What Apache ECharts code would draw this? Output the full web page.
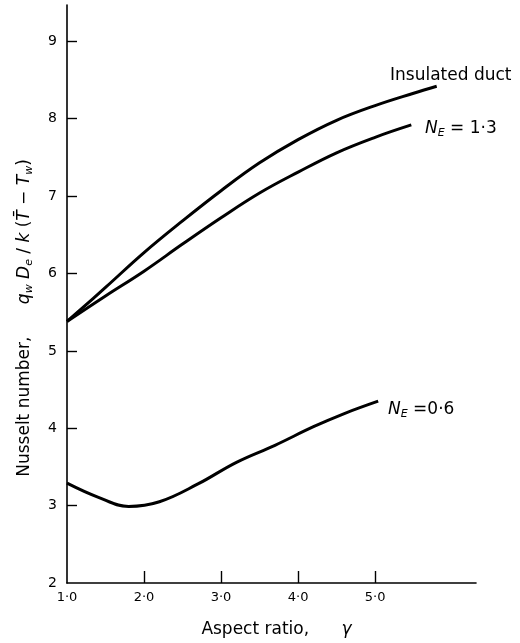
<!DOCTYPE html>
<html>
<head>
<meta charset="utf-8">
<script src="https://cdn.jsdelivr.net/npm/echarts@6/dist/echarts.min.js"></script>
<style>
  html, body { margin: 0; padding: 0; background: #fff; }
  #chart { width: 520px; height: 643px; }
</style>
</head>
<body>
<div id="chart"></div>
<script>
// values
var xTicks = [2, 3, 4, 5];
var xLabels = [1, 2, 3, 4, 5];
var yTicks = [3, 4, 5, 6, 7, 8, 9];
var yLabels = [2, 3, 4, 5, 6, 7, 8, 9];

var gammaInsulated = [1.0, 1.5, 2.0, 2.5, 3.0, 3.5, 4.0, 4.5, 5.0, 5.5, 5.8];
var nuInsulated = [5.38, 5.82, 6.27, 6.68, 7.07, 7.43, 7.73, 7.98, 8.17, 8.33, 8.42];

var gammaNe13 = [1.0, 1.5, 2.0, 2.5, 3.0, 3.5, 4.0, 4.5, 5.0, 5.47];
var nuNe13 = [5.38, 5.71, 6.03, 6.38, 6.72, 7.04, 7.31, 7.56, 7.76, 7.92];

var gammaNe06 = [1.0, 1.4, 1.8, 2.2, 2.7, 3.2, 3.7, 4.2, 4.6, 5.04];
var nuNe06 = [3.29, 3.11, 2.99, 3.05, 3.28, 3.56, 3.78, 4.02, 4.19, 4.35];

function pairs(xs, ys) {
    return xs.map(function (x, i) { return [x, ys[i]]; });
}

function fmtDot(v) {
    return v.toFixed(1).replace('.', '\u00b7');
}

var FONT = 'DejaVu Sans';

function curve(name, xs, ys) {
    return {
        name: name,
        type: 'line',
        data: pairs(xs, ys),
        smooth: 0.4,
        showSymbol: false,
        lineStyle: { color: '#000', width: 3 },
        silent: true
    };
}

var richLabel = {
    i: { fontFamily: FONT, fontSize: 17, fontStyle: 'italic', fill: '#000' },
    t: { fontFamily: FONT, fontSize: 17, fill: '#000' },
    s: { fontFamily: FONT, fontSize: 11, fontStyle: 'italic', fill: '#000', padding: [9, 0, 0, 0] }
};

var chartDoc = document.getElementById('chart');
var chart = echarts.init(chartDoc);

var option = {
    animation: false,
    backgroundColor: '#fff',
    grid: { left: 67, right: 44, top: 5, bottom: 53 },
    xAxis: {
        type: 'value',
        min: 1,
        max: 6.31,
        interval: 1,
        splitLine: { show: false },
        axisLine: { lineStyle: { color: '#000', width: 1.6 } },
        axisTick: { inside: true, length: 12, customValues: xTicks, lineStyle: { color: '#000', width: 1.4 } },
        axisLabel: {
            customValues: xLabels,
            formatter: fmtDot,
            color: '#000', fontFamily: FONT, fontSize: 13, margin: 8
        },
        name: 'Aspect ratio,      {g|\u03b3}',
        nameLocation: 'middle',
        nameGap: 38,
        nameTextStyle: {
            color: '#000', fontFamily: FONT, fontSize: 17,
            padding: [0, 0, 0, 10],
            rich: { g: { fontFamily: FONT, fontSize: 17, fontStyle: 'italic', color: '#000' } }
        }
    },
    yAxis: {
        type: 'value',
        min: 2,
        max: 9.47,
        interval: 1,
        splitLine: { show: false },
        axisLine: { lineStyle: { color: '#000', width: 1.6 } },
        axisTick: { inside: true, length: 10, customValues: yTicks, lineStyle: { color: '#000', width: 1.4 } },
        axisLabel: {
            customValues: yLabels,
            color: '#000', fontFamily: FONT, fontSize: 14, margin: 10
        }
    },
    graphic: [
        {
            type: 'text',
            x: 25, y: 318,
            rotation: Math.PI / 2,
            style: {
                text: 'Nusselt number,      {i|q}{s|w}{i| D}{s|e}{t| / }{i|k}{t| (}{i|T\u0304}{t| \u2212 }{i|T}{s|w}{t|)}',
                font: '17px "' + FONT + '"',
                fill: '#000',
                align: 'center',
                verticalAlign: 'middle',
                rich: richLabel
            }
        },
        {
            type: 'text',
            x: 390, y: 76,
            style: {
                text: 'Insulated duct',
                font: '17px "' + FONT + '"',
                fill: '#000', verticalAlign: 'middle'
            }
        },
        {
            type: 'text',
            x: 425, y: 129,
            style: { text: '{i|N}{s|E}{t| = 1\u00b73}', fill: '#000', verticalAlign: 'middle', rich: richLabel }
        },
        {
            type: 'text',
            x: 388, y: 410,
            style: { text: '{i|N}{s|E}{t| =0\u00b76}', fill: '#000', verticalAlign: 'middle', rich: richLabel }
        }
    ],
    series: [
        curve('Insulated duct', gammaInsulated, nuInsulated),
        curve('NE = 1.3', gammaNe13, nuNe13),
        curve('NE = 0.6', gammaNe06, nuNe06)
    ]
};

chart.setOption(option);
</script>
</body>
</html>
